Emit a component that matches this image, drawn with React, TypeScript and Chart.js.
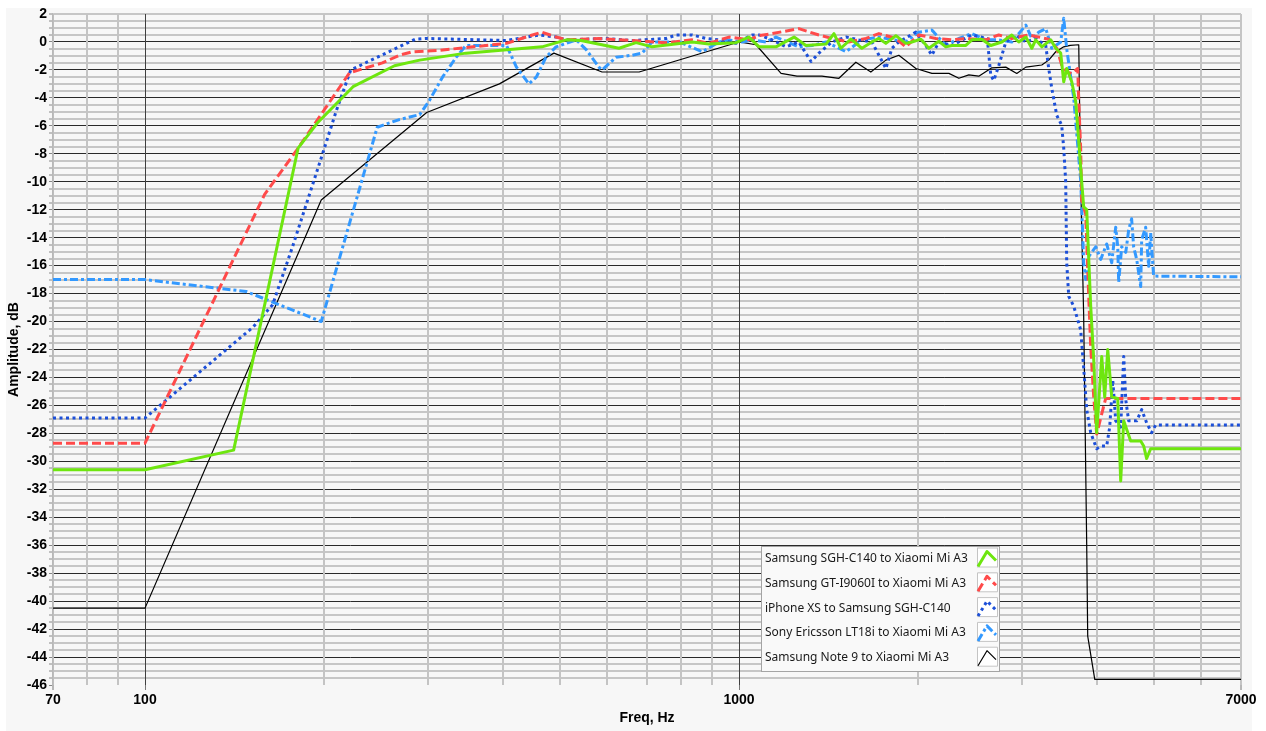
import React, { useEffect, useRef } from 'react';
import { Chart, registerables } from 'chart.js';

Chart.register(...registerables);

// ---------- data ----------
const seriesLabels = [
  'Samsung SGH-C140 to Xiaomi Mi A3',
  'Samsung GT-I9060I to Xiaomi Mi A3',
  'iPhone XS to Samsung SGH-C140',
  'Sony Ericsson LT18i to Xiaomi Mi A3',
  'Samsung Note 9 to Xiaomi Mi A3',
];

const xTickValues = [70, 80, 90, 100, 200, 300, 400, 500, 600, 700, 800, 900, 1000, 2000, 3000, 4000, 5000, 6000, 7000];
const xLabelValues = [70, 100, 1000, 7000];

const c140Freq = [70, 100, 141, 181, 195, 224, 263, 290, 347, 466, 512, 542, 628, 671, 714, 834, 890, 988, 1039, 1081, 1154, 1238, 1296, 1401, 1445, 1484, 1543, 1610, 1674, 1720, 1767, 1837, 1909, 1954, 2024, 2087, 2170, 2229, 2282, 2409, 2466, 2562, 2654, 2770, 2879, 2958, 3040, 3111, 3159, 3234, 3348, 3414, 3480, 3521, 3562, 3632, 3688, 3732, 3775, 3804, 3849, 3909, 3955, 4001, 4080, 4127, 4176, 4241, 4341, 4391, 4443, 4564, 4745, 4800, 4856, 4932, 7000];
const c140Db = [-30.6, -30.6, -29.2, -7.6, -5.8, -3.2, -1.7, -1.3, -0.8, -0.35, 0.15, 0.1, -0.45, -0.05, -0.35, 0.0, -0.15, -0.05, 0.35, -0.35, -0.35, 0.35, -0.25, -0.15, 0.6, -0.45, 0.2, -0.45, 0.0, 0.25, -0.1, 0.45, -0.1, 0.0, 0.2, -0.45, 0.05, -0.35, -0.25, -0.25, 0.15, 0.2, -0.25, 0.0, 0.5, 0.0, 0.35, -0.45, 0.15, -0.35, 0.15, -0.45, -0.8, -2.85, -1.9, -2.85, -4.25, -7.1, -10.0, -11.8, -12.0, -18.9, -22.7, -27.95, -22.5, -25.4, -22.0, -25.4, -25.5, -31.4, -27.1, -28.55, -28.55, -28.9, -29.8, -29.1, -29.1];

const i9060Freq = [70, 100, 159, 181, 221, 251, 268, 282, 313, 406, 449, 466, 492, 512, 581, 661, 754, 834, 890, 962, 1039, 1081, 1137, 1261, 1363, 1434, 1531, 1636, 1720, 1837, 1909, 2008, 2145, 2282, 2409, 2603, 2737, 2879, 3075, 3322, 3427, 3493, 3562, 3632, 3717, 3732, 3760, 3775, 3834, 3879, 3909, 3955, 4001, 4080, 4143, 7000];
const i9060Db = [-28.7, -28.7, -10.9, -7.6, -2.2, -1.5, -0.95, -0.7, -0.6, -0.1, 0.5, 0.7, 0.35, 0.15, 0.25, 0.1, -0.05, 0.15, -0.1, 0.35, 0.15, 0.45, 0.6, 0.95, 0.5, 0.25, 0.0, 0.25, 0.6, 0.25, -0.35, 0.5, 0.25, 0.15, 0.25, 0.15, 0.5, 0.25, 0.5, 0.2, -0.45, -1.65, -2.15, -2.25, -1.9, -4.25, -7.6, -11.4, -12.3, -18.2, -21.8, -25.4, -28.05, -26.6, -25.5, -25.5];

const iphoneFreq = [70, 100, 152, 164, 177, 198, 210, 222, 285, 298, 406, 461, 492, 512, 596, 661, 754, 784, 834, 880, 926, 988, 1052, 1081, 1137, 1200, 1261, 1322, 1363, 1434, 1514, 1592, 1674, 1767, 1809, 1858, 1985, 2063, 2112, 2170, 2282, 2466, 2618, 2654, 2685, 2737, 2813, 2924, 3040, 3159, 3284, 3322, 3361, 3427, 3493, 3521, 3548, 3562, 3590, 3660, 3760, 3804, 3849, 3909, 4001, 4080, 4159, 4208, 4258, 4307, 4391, 4443, 4478, 4529, 4672, 4763, 4856, 4951, 5028, 7000];
const iphoneDb = [-26.9, -26.9, -20.4, -18.8, -14.7, -8.3, -4.9, -2.0, 0.2, 0.25, 0.1, 0.5, 0.35, 0.15, 0.25, 0.1, 0.25, 0.5, 0.5, 0.25, 0.15, -0.1, 0.5, 0.5, 0.15, -0.35, 0.0, -1.4, -0.8, 0.0, 0.35, 0.15, 0.0, -1.9, -0.45, 0.0, 0.7, -0.25, -0.95, 0.0, -0.25, 0.5, 0.25, -2.4, -2.75, -1.7, 0.0, 0.5, 0.0, 0.25, -0.25, -1.9, -3.3, -5.25, -5.95, -7.6, -10.0, -15.8, -18.2, -18.9, -20.6, -23.3, -26.3, -27.95, -29.1, -28.9, -28.9, -27.55, -24.2, -27.1, -27.55, -22.5, -25.6, -27.1, -27.1, -26.3, -27.25, -27.95, -27.4, -27.4];

const lt18iFreq = [70, 100, 148, 198, 246, 268, 290, 301, 317, 334, 347, 406, 422, 443, 456, 473, 492, 532, 553, 581, 588, 621, 661, 687, 714, 793, 867, 926, 962, 1012, 1052, 1110, 1154, 1261, 1327, 1401, 1514, 1610, 1720, 1909, 2008, 2112, 2229, 2345, 2466, 2603, 2737, 2879, 3040, 3111, 3196, 3284, 3361, 3480, 3521, 3562, 3660, 3760, 3775, 3804, 3834, 3879, 3986, 4064, 4159, 4241, 4307, 4341, 4357, 4408, 4478, 4529, 4581, 4617, 4672, 4745, 4763, 4837, 4894, 4932, 4989, 7000];
const lt18iDb = [-17.0, -17.0, -17.85, -20.0, -6.1, -5.55, -5.2, -4.2, -2.5, -1.1, -0.25, -0.25, -1.8, -3.0, -2.5, -1.1, -0.35, 0.15, -0.55, -1.8, -2.0, -1.1, -0.95, -0.8, 0.0, 0.0, -0.7, 0.0, 0.15, 0.0, 0.15, 0.0, 0.35, -0.35, -0.25, 0.0, -0.7, 0.15, 0.35, 0.0, 0.7, 0.85, -0.25, 0.25, 0.6, 0.15, 0.15, 0.0, 1.2, 0.25, 0.7, 0.95, -0.45, 0.0, 1.7, -0.5, -4.0, -9.9, -11.8, -15.8, -17.0, -15.35, -14.65, -15.55, -14.45, -15.8, -13.25, -14.65, -17.2, -14.65, -15.05, -13.45, -12.65, -14.65, -15.55, -17.5, -14.15, -13.25, -16.05, -13.65, -16.75, -16.8];

const note9Freq = [70, 100, 198, 298, 395, 488, 588, 679, 1000, 1068, 1177, 1252, 1379, 1473, 1573, 1667, 1767, 1858, 1985, 2112, 2256, 2345, 2437, 2533, 2665, 2813, 2935, 3040, 3234, 3322, 3414, 3521, 3610, 3732, 3760, 3804, 3849, 3864, 3971, 7000];
const note9Db = [-40.5, -40.5, -11.3, -5.05, -3.0, -0.8, -2.15, -2.15, 0.0, -0.2, -2.25, -2.45, -2.45, -2.6, -1.45, -2.15, -1.3, -0.95, -1.9, -2.25, -2.25, -2.6, -2.35, -2.45, -1.85, -1.8, -2.25, -1.8, -1.65, -1.3, -0.7, -0.35, -0.25, -0.2, -10.0, -19.6, -36.0, -42.5, -45.6, -45.6];

const seriesFreqs = [c140Freq, i9060Freq, iphoneFreq, lt18iFreq, note9Freq];
const seriesDbs = [c140Db, i9060Db, iphoneDb, lt18iDb, note9Db];
const seriesColors = ['#6ee60f', '#ff4a4a', '#1c4fd8', '#3399ff', '#000000'];
const seriesWidths = [3, 3, 3, 3, 1.2];
const seriesDashes: number[][] = [[], [9, 4], [3, 3.5], [8, 3, 3, 3], []];

const FONT = '"Liberation Sans", Arial, sans-serif';

const boxLegend = {
  id: 'boxLegend',
  afterDatasetsDraw(chart: any) {
    const ctx = chart.ctx as CanvasRenderingContext2D;
    const x0 = 755, y0 = 538, w = 238, h = 125;
    ctx.save();
    ctx.setLineDash([]);
    ctx.fillStyle = '#f9f9f9';
    ctx.fillRect(x0, y0, w, h);
    ctx.strokeStyle = '#a4a4a4';
    ctx.lineWidth = 1;
    ctx.strokeRect(x0 + 0.5, y0 + 0.5, w, h);
    chart.data.datasets.forEach((ds: any, i: number) => {
      const cy = 550.5 + i * 24.8;
      ctx.setLineDash([]);
      ctx.fillStyle = '#1a1a1a';
      ctx.font = '12px "Noto Sans", "Open Sans", sans-serif';
      ctx.textBaseline = 'middle';
      ctx.textAlign = 'left';
      ctx.fillText(ds.label, 759, cy);
      ctx.fillStyle = '#ffffff';
      ctx.fillRect(971, cy - 10, 20, 19);
      ctx.strokeStyle = '#c4c4c4';
      ctx.lineWidth = 1;
      ctx.strokeRect(971.5, cy - 10.5, 20, 19);
      ctx.beginPath();
      ctx.moveTo(972, cy + 8);
      ctx.lineTo(981, cy - 7);
      ctx.lineTo(990, cy + 2);
      ctx.strokeStyle = ds.borderColor;
      ctx.lineWidth = ds.borderWidth;
      ctx.lineJoin = 'round';
      ctx.setLineDash(ds.borderDash || []);
      ctx.stroke();
    });
    ctx.restore();
  },
};

export default function App() {
  const ref = useRef<HTMLCanvasElement | null>(null);

  useEffect(() => {
    if (!ref.current) return;
    const datasets = seriesLabels.map((label, i) => ({
      label,
      data: seriesFreqs[i].map((f, j) => ({ x: f, y: seriesDbs[i][j] })),
      borderColor: seriesColors[i],
      backgroundColor: seriesColors[i],
      borderWidth: seriesWidths[i],
      borderDash: seriesDashes[i],
      borderCapStyle: 'butt' as const,
      borderJoinStyle: 'round' as const,
      pointRadius: 0,
      tension: 0,
      fill: false,
    }));

    const chart = new Chart(ref.current, {
      type: 'line',
      data: { datasets },
      plugins: [boxLegend],
      options: {
        animation: false,
        responsive: false,
        events: [],
        layout: { padding: { top: 6, right: 25, bottom: 0, left: 0 }, autoPadding: false },
        plugins: { legend: { display: false }, tooltip: { enabled: false } },
        scales: {
          x: {
            type: 'logarithmic',
            min: 70,
            max: 7000,
            afterBuildTicks: (s: any) => {
              s.ticks = xTickValues.map((v) => ({ value: v }));
            },
            afterFit: (s: any) => {
              s.height = 46;
              s.paddingLeft = 0;
              s.paddingRight = 0;
            },
            ticks: {
              autoSkip: false,
              maxRotation: 0,
              minRotation: 0,
              padding: 2,
              color: '#000',
              font: { family: FONT, size: 14, weight: 'bold' },
              callback: (v: any) => (xLabelValues.includes(Number(v)) ? String(v) : ''),
            },
            grid: {
              z: -1,
              color: (c: any) => {
                const v = c.tick ? c.tick.value : 0;
                return v === 100 || v === 1000 ? '#404040' : '#c4c4c4';
              },
              lineWidth: (c: any) => {
                const v = c.tick ? c.tick.value : 0;
                return v === 100 || v === 1000 ? 1 : 2;
              },
              tickLength: 5,
              tickWidth: 1,
              tickColor: (c: any) => {
                const v = c.tick ? c.tick.value : 0;
                return xLabelValues.includes(v) ? '#777777' : 'rgba(0,0,0,0)';
              },
            },
            border: { display: false },
            title: {
              display: true,
              text: 'Freq, Hz',
              color: '#000',
              font: { family: FONT, size: 14, weight: 'bold' },
              padding: { top: 0, bottom: 4 },
            },
          },
          y: {
            type: 'linear',
            min: -46,
            max: 2,
            afterFit: (s: any) => {
              s.width = 47;
              s.paddingTop = 0;
              s.paddingBottom = 0;
            },
            ticks: {
              stepSize: 0.5,
              autoSkip: false,
              padding: 2,
              color: '#000',
              font: { family: FONT, size: 14, weight: 'bold' },
              callback: (v: any) => (Number(v) % 2 === 0 ? String(v) : ''),
            },
            grid: {
              z: -2,
              color: (c: any) => {
                const v = c.tick ? c.tick.value : 0;
                if (v === -46) return 'rgba(0,0,0,0)';
                if (v === 2) return '#c6c6c6';
                return v % 2 === 0 ? '#2a2a2a' : '#c6c6c6';
              },
              lineWidth: (c: any) => {
                const v = c.tick ? c.tick.value : 0;
                return v % 2 === 0 && v !== 2 ? 1 : 2;
              },
              tickLength: 4,
              tickWidth: 1,
              tickColor: '#888888',
            },
            border: { display: true, color: '#b8b8b8', width: 1.5 },
            title: {
              display: true,
              text: 'Amplitude, dB',
              color: '#000',
              font: { family: FONT, size: 14, weight: 'bold' },
              padding: { top: 0, bottom: 0 },
            },
          },
        },
      },
    } as any);
    return () => chart.destroy();
  }, []);

  return (
    <div
      style={{
        position: 'absolute',
        left: 6,
        top: 8,
        width: 1246,
        height: 723,
        background: '#f7f7f7',
      }}
    >
      <canvas ref={ref} width={1260} height={723} style={{ display: 'block' }} />
    </div>
  );
}
